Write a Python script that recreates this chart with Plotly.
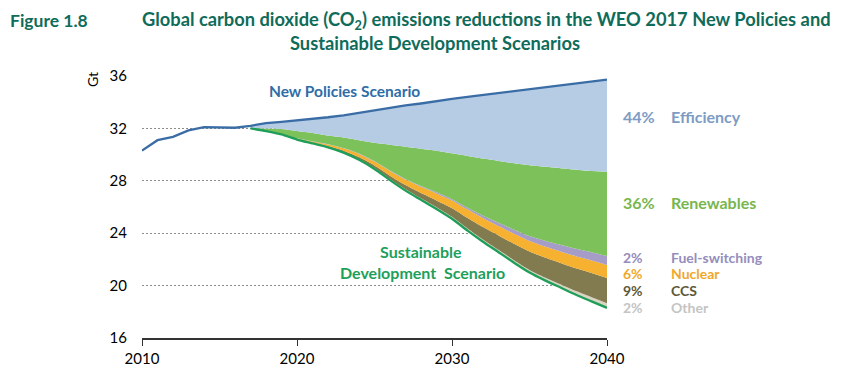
import numpy as np
import plotly.graph_objects as go

# ---------------- data ----------------
nps_years = list(range(2010, 2041))
nps = [30.3, 31.1, 31.35, 31.85, 32.1, 32.05, 32.05, 32.2, 32.4, 32.5, 32.6,
       32.7, 32.85, 33.0, 33.2, 33.4, 33.6, 33.75, 33.9, 34.1, 34.25,
       34.4, 34.55, 34.7, 34.85, 35.0, 35.15, 35.3, 35.45, 35.6, 35.72]

proj_years = list(range(2017, 2041))
sds = [32.0, 31.8, 31.55, 31.15, 30.85, 30.55, 30.15, 29.6, 28.9, 28.05,
       27.25, 26.55, 25.85, 25.1, 24.2, 23.35, 22.55, 21.75, 21.0,
       20.4, 19.85, 19.3, 18.8, 18.3]
other = [0, 0, 0.01, 0.02, 0.03, 0.04, 0.05, 0.06, 0.07, 0.08, 0.1, 0.11,
         0.13, 0.15, 0.16, 0.17, 0.18, 0.19, 0.2, 0.22, 0.25, 0.28, 0.32, 0.36]
ccs = [0, 0, 0.01, 0.02, 0.04, 0.06, 0.1, 0.15, 0.2, 0.26, 0.32, 0.4,
       0.52, 0.65, 0.8, 0.95, 1.1, 1.25, 1.4, 1.52, 1.63, 1.74, 1.84, 1.92]
nuclear = [0, 0.01, 0.02, 0.04, 0.08, 0.12, 0.18, 0.24, 0.3, 0.36, 0.42, 0.48,
           0.54, 0.6, 0.64, 0.68, 0.72, 0.76, 0.8, 0.84, 0.88, 0.92, 0.96, 1.0]
fuel = [0, 0, 0, 0.01, 0.01, 0.02, 0.02, 0.03, 0.03, 0.04, 0.05, 0.06,
        0.08, 0.1, 0.14, 0.19, 0.25, 0.32, 0.38, 0.45, 0.51, 0.57, 0.63, 0.68]
renewables = [0.05, 0.19, 0.36, 0.56, 0.64, 0.66, 0.8, 1.02, 1.4, 1.96, 2.46,
              2.85, 3.18, 3.5, 3.96, 4.36, 4.72, 5.07, 5.41, 5.64, 5.84, 6.04,
              6.2, 6.44]

wedge_names = ["Other", "CCS", "Nuclear", "Fuel-switching", "Renewables"]
wedge_colors = ["#D9D5C2", "#827B4F", "#F5B12F", "#A69CC8", "#7DC15B"]
eff_color = "#B6CCE4"

label_pcts = ["44%", "36%", "2%", "6%", "9%", "2%"]
label_names = ["Efficiency", "Renewables", "Fuel-switching", "Nuclear", "CCS", "Other"]
label_colors = ["#7D9CC4", "#78B64E", "#958DBB", "#EFA82C", "#5C5838", "#C4C4C4"]
label_ypx = [117, 204, 260, 277, 294, 311]
label_sizes = [16, 16, 14, 14, 14, 14]

x_ticks = [2010, 2020, 2030, 2040]
y_ticks = [16, 20, 24, 28, 32, 36]

# ---------------- geometry (page pixels; page body has 8px margin) ----------------
OFF = 8
W, H = 850 - OFF, 379 - OFF
L, T = 142 - OFF, 76 - OFF
R = W - (607 - OFF)
B = H - (342 - OFF)
PW, PH = W - L - R, H - T - B


def px(xp):
    return (xp - OFF - L) / PW


def py(yp):
    return 1 - (yp - OFF - T) / PH


FONT = "Lato, 'Open Sans', sans-serif"
TITLE_C = "#0F6B5A"
SHAPE = dict(shape="spline", smoothing=0.6)

fig = go.Figure()

base = np.array(sds)
fig.add_trace(go.Scatter(x=proj_years, y=base, mode="lines",
                         line=dict(width=0, **SHAPE), hoverinfo="skip", showlegend=False))
cum = base.copy()
for name, vals, col in zip(wedge_names, [other, ccs, nuclear, fuel, renewables], wedge_colors):
    cum = cum + np.array(vals)
    fig.add_trace(go.Scatter(x=proj_years, y=cum, mode="lines", name=name,
                             line=dict(width=0, **SHAPE), fill="tonexty", fillcolor=col,
                             showlegend=False))
nps_proj = [v for yr, v in zip(nps_years, nps) if yr >= proj_years[0]]
fig.add_trace(go.Scatter(x=proj_years, y=nps_proj, mode="lines", name="Efficiency",
                         line=dict(width=0, **SHAPE), fill="tonexty", fillcolor=eff_color,
                         showlegend=False))

fig.add_trace(go.Scatter(x=proj_years, y=sds, mode="lines",
                         line=dict(color="#1E9E58", width=2.3, **SHAPE), showlegend=False))
fig.add_trace(go.Scatter(x=nps_years, y=nps, mode="lines",
                         line=dict(color="#3A6DA6", width=2.3), showlegend=False))

annotations = []


def ann(x, y, text, size, color, xanchor="left", **kw):
    annotations.append(dict(xref="paper", yref="paper", x=px(x), y=py(y),
                            xanchor=xanchor, yanchor="middle", showarrow=False,
                            text=text, font=dict(family=FONT, size=size, color=color), **kw))


ann(8, 20, "<b>Figure 1.8</b>", 17.5, TITLE_C)
ann(140, 20, "<b>Global carbon dioxide (CO<sub>2</sub>) emissions reductions in the WEO 2017 New Policies and</b>",
    18.3, TITLE_C)
ann(288, 42, "<b>Sustainable Development Scenarios</b>", 18.3, TITLE_C)
ann(93, 80, "Gt", 14, "#000000", xanchor="center", textangle=-90)
ann(344, 91, "<b>New Policies Scenario</b>", 15.5, "#2F6DA6", xanchor="center")
ann(421, 254, "<b>Sustainable</b>", 16, "#1EA05B", xanchor="center")
ann(422, 275, "<b>Development&nbsp;&nbsp;Scenario</b>", 16, "#1EA05B", xanchor="center")

for pct, nm, col, ypx, sz in zip(label_pcts, label_names, label_colors, label_ypx, label_sizes):
    ann(621, ypx, f"<b>{pct}</b>", sz, col)
    ann(669, ypx, f"<b>{nm}</b>", sz, col)

fig.update_layout(
    width=W, height=H,
    margin=dict(l=L, r=R, t=T, b=B),
    paper_bgcolor="white", plot_bgcolor="white",
    annotations=annotations,
    xaxis=dict(range=[2010, 2040], tickvals=x_ticks, ticks="outside", ticklen=6,
               tickcolor="#333333", showline=True, linecolor="#333333", linewidth=1.5,
               showgrid=False, zeroline=False,
               tickfont=dict(family=FONT, size=15, color="#000000")),
    yaxis=dict(range=[16, 36], tickvals=y_ticks, showgrid=True, gridcolor="#8C8C8C",
               griddash="1.5px,2.5px", gridwidth=1.2, zeroline=False, showline=False,
               ticks="", ticklabelstandoff=14,
               tickfont=dict(family=FONT, size=15, color="#000000")),
)

fig.write_html("out.html")
